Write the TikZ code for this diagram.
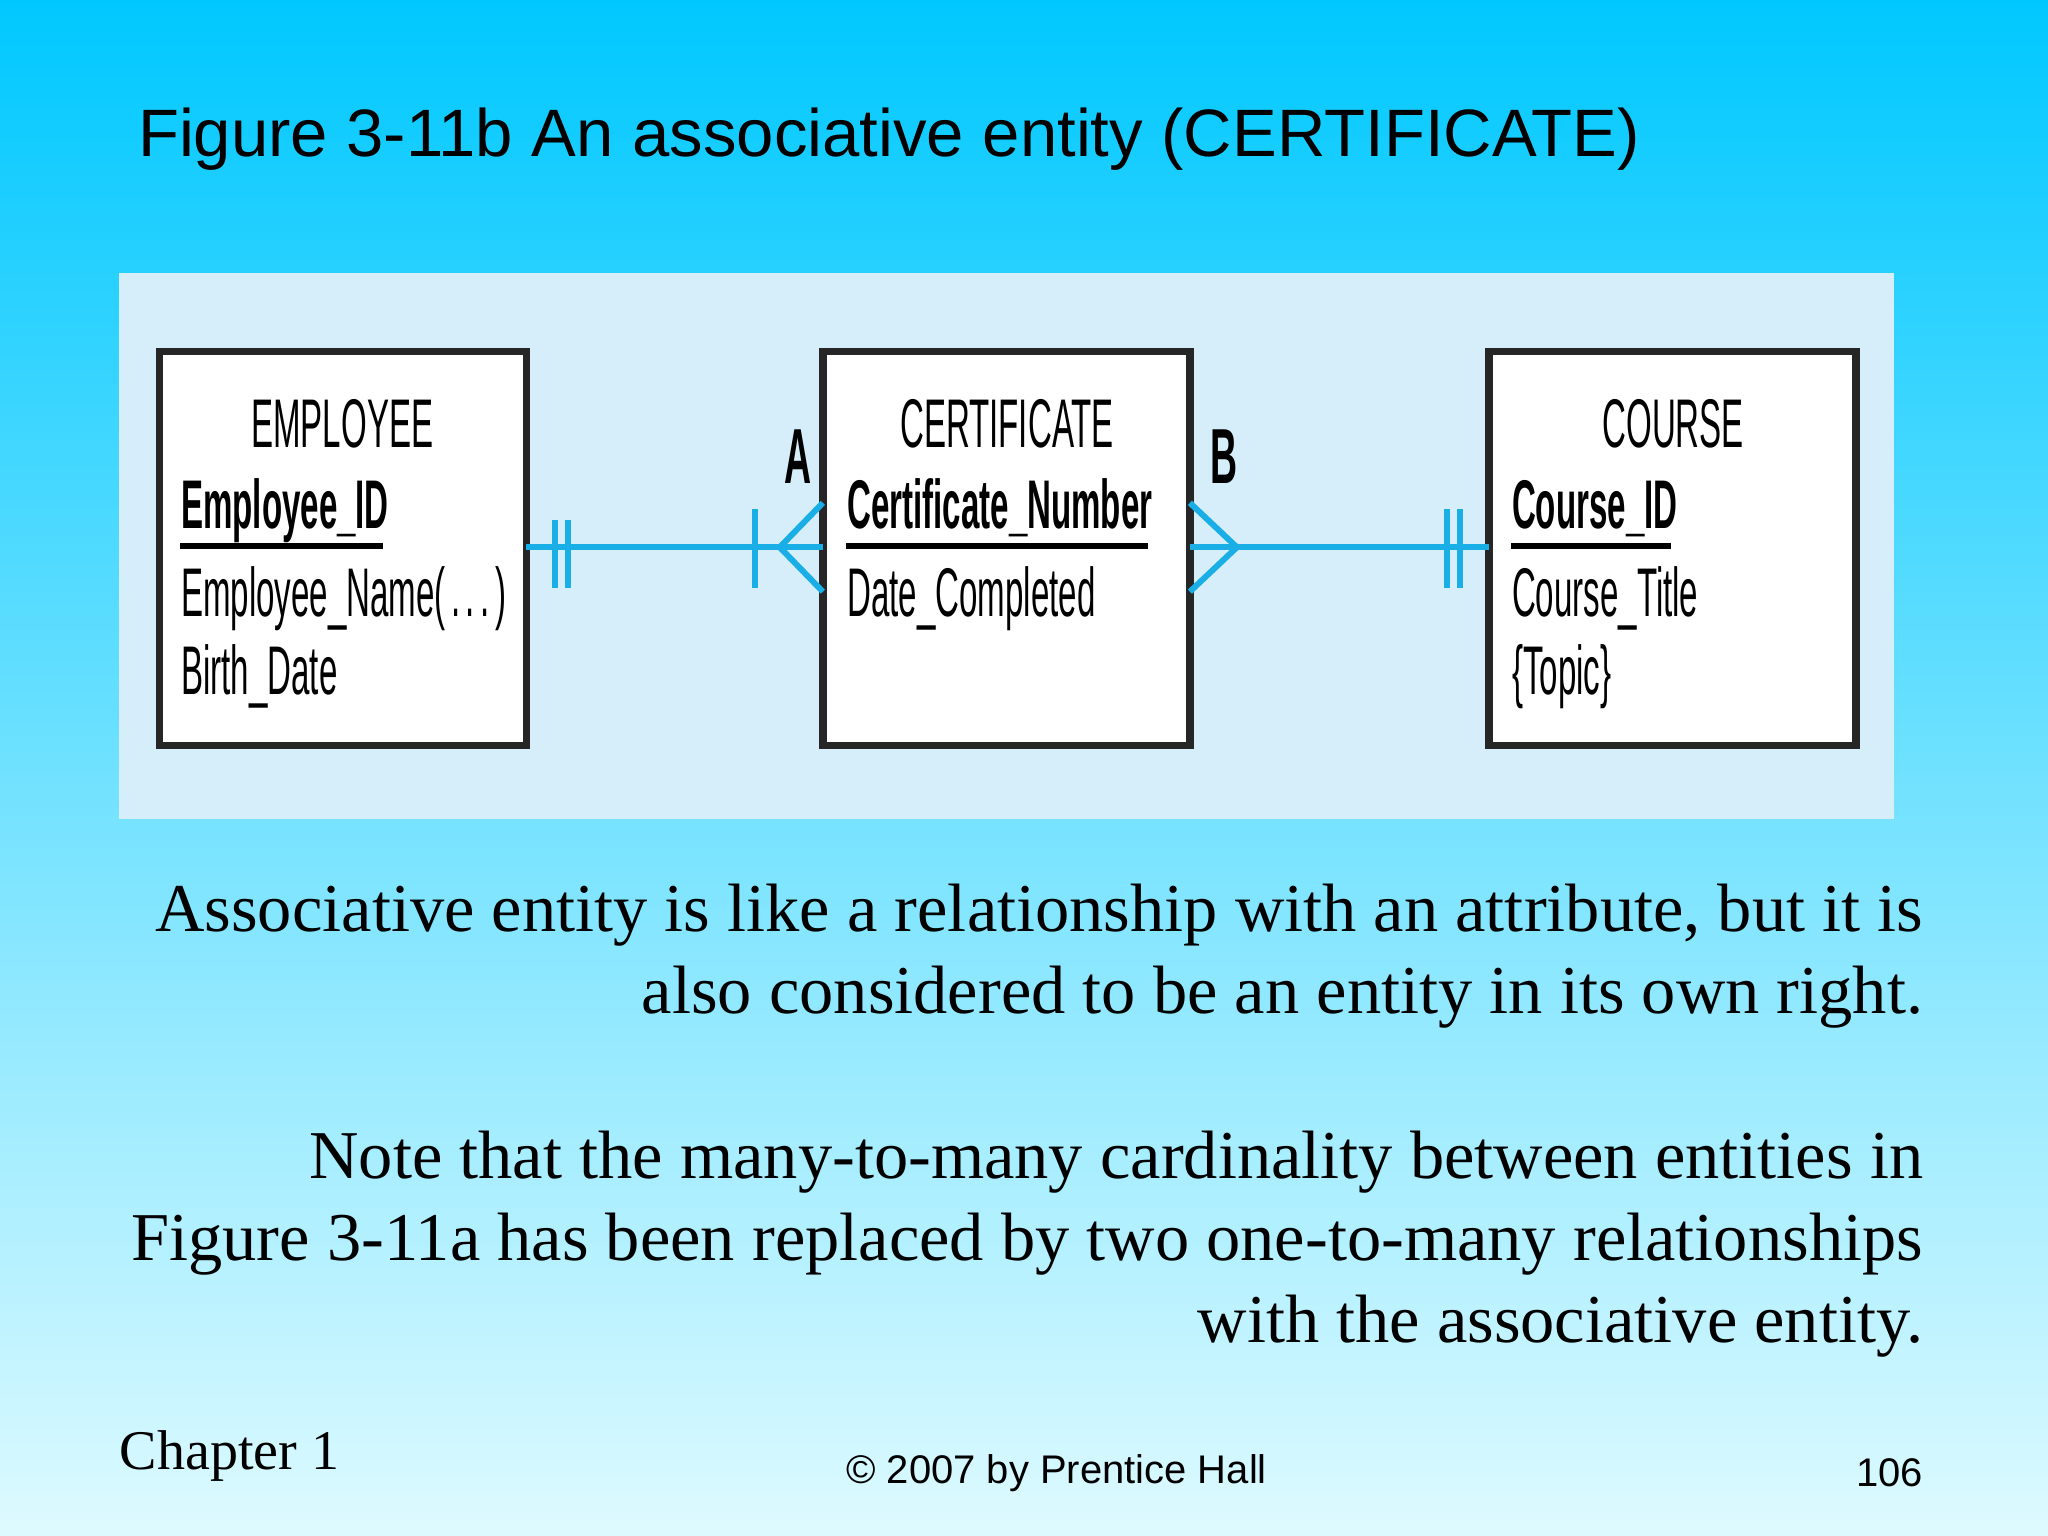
\documentclass[tikz,border=0pt]{standalone}
\usepackage{fontspec}
\usepackage{graphicx}
\setmainfont{Liberation Serif}
\newfontfamily\sans{Liberation Sans}
\newcommand\cnd[1]{\scalebox{0.48}[1]{#1}}
\definecolor{topc}{RGB}{0,200,255}
\definecolor{botc}{RGB}{222,250,255}
\definecolor{panel}{RGB}{214,238,250}
\definecolor{lnk}{RGB}{25,175,230}
\tikzset{ent/.style={draw=black!85,line width=1.6pt,fill=white},
 etitle/.style={font=\sans\fontsize{15}{15}\selectfont,anchor=base,inner sep=0},
 attr/.style={font=\sans\fontsize{15}{15}\selectfont,anchor=base west,inner sep=0},
 pk/.style={attr,font=\sans\bfseries\fontsize{15}{15}\selectfont},
 lk/.style={draw=lnk,line width=1.3pt},
 body/.style={font=\fontsize{14.9}{14.9}\selectfont,anchor=base east,inner sep=0}}
\begin{document}
\begin{tikzpicture}[x=0.01cm,y=-0.01cm]
\shade[top color=topc,bottom color=botc] (0,0) rectangle (1568,1176);
\useasboundingbox (0,0) rectangle (1568,1176);
\node[anchor=base west,inner sep=0,font=\sans\fontsize{14.6}{14.6}\selectfont] (title) at (105,120) {Figure 3-11b An associative entity (CERTIFICATE)};
\fill[panel] (91,209) rectangle (1450,627);
% boxes
\draw[ent] (122,269) rectangle (403,571);
\draw[ent] (630,269) rectangle (911,571);
\draw[ent] (1140,269) rectangle (1421,571);
\coordinate (e) at (403,419); \coordinate (c1) at (630,419);
\coordinate (c2) at (911,419); \coordinate (k) at (1140,419);
\node[etitle] (et) at (262,343) {\cnd{EMPLOYEE}};
\node[pk] (eid) at (138,405) {\cnd{Employee\_ID}};
\draw[line width=1.3pt] (138,418) -- (293,418);
\node[attr] (en) at (138,472) {\cnd{Employee\_Name(\,.\,.\,.\,)}};
\node[attr] (eb) at (138,532) {\cnd{Birth\_Date}};
\node[etitle] (ct) at (771,343) {\cnd{CERTIFICATE}};
\node[pk] (cn) at (648,405) {\cnd{Certificate\_Number}};
\draw[line width=1.3pt] (648,418) -- (879,418);
\node[attr] (cd) at (648,472) {\cnd{Date\_Completed}};
\node[etitle] (kt) at (1281,343) {\cnd{COURSE}};
\node[pk] (kid) at (1157,405) {\cnd{Course\_ID}};
\draw[line width=1.3pt] (1157,418) -- (1279,418);
\node[attr] (ktt) at (1157,472) {\cnd{Course\_Title}};
\node[attr] (ktp) at (1157,532) {\cnd{\{Topic\}}};
\node[font=\sans\bfseries\fontsize{17}{17}\selectfont,anchor=base,inner sep=0] (A) at (611,370) {\cnd{A}};
\node[font=\sans\bfseries\fontsize{17}{17}\selectfont,anchor=base,inner sep=0] (B) at (937,370) {\cnd{B}};
% connectors
\draw[lk] (e) -- (c1);
\draw[lk] (425,398) -- (425,450) (435,398) -- (435,450) (578,390) -- (578,450);
\draw[lk] (630,385) -- (597,419) -- (630,453);
\draw[lk] (c2) -- (k);
\draw[lk] (911,385) -- (947,419) -- (911,453);
\draw[lk] (1108,390) -- (1108,450) (1118,390) -- (1118,450);
% body
\node[body] (t1) at (1473,713) {Associative entity is like a relationship with an attribute, but it is};
\node[body] (t2) at (1473,776) {also considered to be an entity in its own right.};
\node[body] (t3) at (1473,902) {Note that the many-to-many cardinality between entities in};
\node[body] (t4) at (1473,965) {Figure 3-11a has been replaced by two one-to-many relationships};
\node[body] (t5) at (1473,1028) {with the associative entity.};
\node[anchor=base west,inner sep=0,font=\fontsize{12.2}{12.2}\selectfont] (ch) at (91,1125) {Chapter 1};
\node[anchor=base,inner sep=0,font=\sans\fontsize{8.7}{8.7}\selectfont] (cp) at (809,1136) {© 2007 by Prentice Hall};
\node[anchor=base east,inner sep=0,font=\sans\fontsize{8.7}{8.7}\selectfont] (pg) at (1473,1138) {106};
\end{tikzpicture}
\end{document}
